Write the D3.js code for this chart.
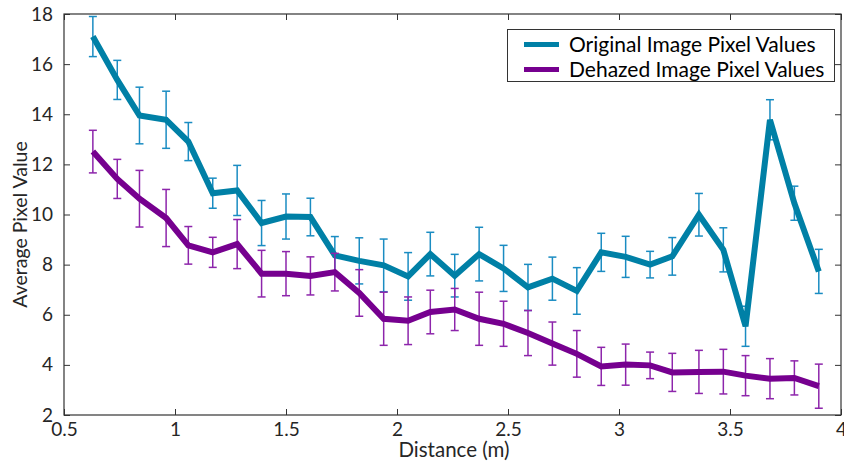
<!DOCTYPE html>
<html>
<head>
<meta charset="utf-8">
<script src="https://cdn.jsdelivr.net/npm/d3@7"></script>
<style>
  body { margin: 0; background: #fff; }
  svg { display: block; font-family: Lato, "Noto Sans", sans-serif; }
</style>
</head>
<body>
<script>
const WIDTH = 844;
const HEIGHT = 461;

// distance (m) of each sample
const distances = [0.63, 0.74, 0.84, 0.96, 1.06, 1.17, 1.28, 1.39, 1.50, 1.61,
    1.72, 1.83, 1.94, 2.05, 2.15, 2.26, 2.37, 2.48, 2.59, 2.70,
    2.81, 2.92, 3.03, 3.14, 3.24, 3.36, 3.47, 3.57, 3.68, 3.79, 3.90];

const originalValues = [17.10, 15.37, 13.95, 13.78, 12.91, 10.85, 10.96, 9.66, 9.92, 9.90,
    8.37, 8.15, 7.97, 7.53, 8.42, 7.56, 8.42, 7.85, 7.09, 7.44,
    6.95, 8.49, 8.31, 8.00, 8.33, 9.99, 8.59, 5.54, 13.78, 10.45, 7.73];
const originalErrors = [0.80, 0.78, 1.13, 1.14, 0.76, 0.60, 1.00, 0.90, 0.90, 0.75,
    0.75, 0.92, 1.05, 0.95, 0.87, 0.85, 1.07, 0.92, 0.92, 0.86,
    0.93, 0.76, 0.82, 0.53, 0.75, 0.85, 0.88, 0.80, 0.80, 0.68, 0.88];

const dehazedValues = [12.51, 11.42, 10.63, 9.86, 8.77, 8.49, 8.82, 7.64, 7.64, 7.55,
    7.70, 6.87, 5.84, 5.76, 6.11, 6.21, 5.84, 5.64, 5.27, 4.85,
    4.44, 3.94, 4.01, 3.98, 3.70, 3.72, 3.73, 3.57, 3.45, 3.48, 3.15];
const dehazedErrors = [0.85, 0.78, 1.13, 1.14, 0.75, 0.60, 0.98, 0.93, 0.88, 0.76,
    0.75, 0.93, 1.06, 0.95, 0.87, 0.84, 1.06, 0.90, 0.90, 0.86,
    0.93, 0.76, 0.82, 0.53, 0.76, 0.86, 0.89, 0.80, 0.80, 0.68, 0.88];

const xTicks = [0.5, 1, 1.5, 2, 2.5, 3, 3.5, 4];
const yTicks = [2, 4, 6, 8, 10, 12, 14, 16, 18];

const series = [
    { name: 'Original Image Pixel Values', values: originalValues, errors: originalErrors,
      line: '#0080a6', bar: '#1a8cc2' },
    { name: 'Dehazed Image Pixel Values', values: dehazedValues, errors: dehazedErrors,
      line: '#76008f', bar: '#8d25ab' },
];

const margin = { top: 14, right: 3, bottom: 46, left: 64 };
const x = d3.scaleLinear().domain([0.5, 4]).range([margin.left, WIDTH - margin.right]);
const y = d3.scaleLinear().domain([2, 18]).range([HEIGHT - margin.bottom, margin.top]);

const svg = d3.select('body').append('svg')
    .attr('width', WIDTH)
    .attr('height', HEIGHT)
    .attr('viewBox', [0, 0, WIDTH, HEIGHT]);

svg.append('clipPath').attr('id', 'plot-clip')
  .append('rect')
    .attr('x', x(0.5)).attr('y', y(18))
    .attr('width', x(4) - x(0.5)).attr('height', y(2) - y(18));

const axisColor = '#333';

// box axes, ticks pointing inward
const tickLen = 6;
const fmt = d3.format('');
svg.append('g')
    .attr('transform', `translate(0,${y(2)})`)
    .call(d3.axisBottom(x).tickValues(xTicks).tickSize(-tickLen).tickPadding(tickLen + 2).tickFormat(fmt))
    .call(g => g.select('.domain').remove());
svg.append('g')
    .attr('transform', `translate(0,${y(18)})`)
    .call(d3.axisTop(x).tickValues(xTicks).tickSize(-tickLen).tickFormat(''))
    .call(g => g.select('.domain').remove());
svg.append('g')
    .attr('transform', `translate(${x(0.5)},0)`)
    .call(d3.axisLeft(y).tickValues(yTicks).tickSize(-tickLen).tickPadding(tickLen + 5).tickFormat(fmt))
    .call(g => g.select('.domain').remove());
svg.append('g')
    .attr('transform', `translate(${x(4)},0)`)
    .call(d3.axisRight(y).tickValues(yTicks).tickSize(-tickLen).tickFormat(''))
    .call(g => g.select('.domain').remove());

svg.selectAll('.tick line').attr('stroke', axisColor).attr('stroke-width', 1);
svg.selectAll('.tick text').attr('fill', '#262626').attr('font-size', 19)
    .attr('font-family', 'Lato, "Noto Sans", sans-serif');

svg.append('rect')
    .attr('x', x(0.5)).attr('y', y(18))
    .attr('width', x(4) - x(0.5)).attr('height', y(2) - y(18))
    .attr('fill', 'none')
    .attr('stroke', axisColor)
    .attr('stroke-width', 1.2);

// axis titles
svg.append('text')
    .attr('x', 454)
    .attr('y', HEIGHT - 4)
    .attr('text-anchor', 'middle')
    .attr('font-size', 20.5)
    .attr('fill', '#262626')
    .text('Distance (m)');

svg.append('text')
    .attr('transform', `translate(27,${(y(2) + y(18)) / 2 + 10}) rotate(-90)`)
    .attr('text-anchor', 'middle')
    .attr('font-size', 19.5)
    .attr('fill', '#262626')
    .text('Average Pixel Value');

// series: error bars then the thick line
const plot = svg.append('g').attr('clip-path', 'url(#plot-clip)');
const capHalf = 4;
const line = d3.line().x((d, i) => x(distances[i])).y(d => y(d));

series.forEach(s => {
    const g = plot.append('g');
    const bars = g.selectAll('g.err')
        .data(s.values.map((v, i) => ({ x: distances[i], v, e: s.errors[i] })))
        .join('g')
        .attr('stroke', s.bar)
        .attr('stroke-width', 1.5);
    bars.append('line')
        .attr('x1', d => x(d.x)).attr('x2', d => x(d.x))
        .attr('y1', d => y(d.v - d.e)).attr('y2', d => y(d.v + d.e));
    bars.append('line')
        .attr('x1', d => x(d.x) - capHalf).attr('x2', d => x(d.x) + capHalf)
        .attr('y1', d => y(d.v + d.e)).attr('y2', d => y(d.v + d.e));
    bars.append('line')
        .attr('x1', d => x(d.x) - capHalf).attr('x2', d => x(d.x) + capHalf)
        .attr('y1', d => y(d.v - d.e)).attr('y2', d => y(d.v - d.e));

    g.append('path')
        .attr('d', line(s.values))
        .attr('fill', 'none')
        .attr('stroke', s.line)
        .attr('stroke-width', 6)
        .attr('stroke-linejoin', 'miter');
});

// legend
const legend = svg.append('g');
legend.append('rect')
    .attr('x', 507.5).attr('y', 29.5)
    .attr('width', 327).attr('height', 52)
    .attr('fill', '#fff')
    .attr('stroke', '#333')
    .attr('stroke-width', 1);
series.forEach((s, i) => {
    const cy = 44.5 + i * 25;
    legend.append('line')
        .attr('x1', 524).attr('x2', 559)
        .attr('y1', cy).attr('y2', cy)
        .attr('stroke', s.line)
        .attr('stroke-width', 5);
    legend.append('text')
        .attr('x', 569)
        .attr('y', cy)
        .attr('dy', '0.35em')
        .attr('font-size', 21)
        .attr('fill', '#000')
        .text(s.name);
});
</script>
</body>
</html>
